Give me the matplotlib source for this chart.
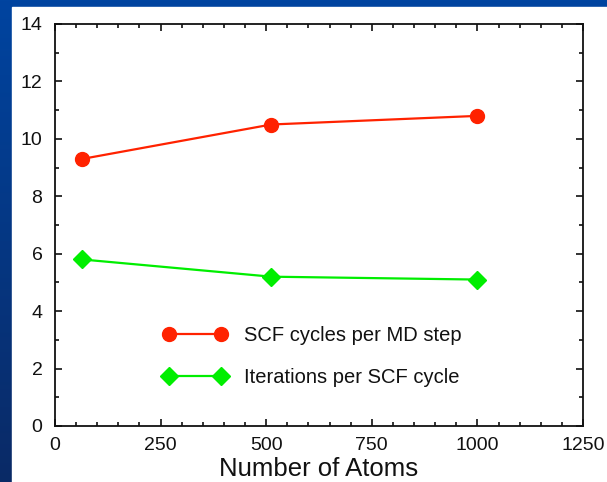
import numpy as np
import matplotlib
matplotlib.use("Agg")
import matplotlib.pyplot as plt
from matplotlib.patches import Rectangle
from matplotlib.ticker import MultipleLocator
from matplotlib.colors import LinearSegmentedColormap

atoms = [64, 512, 1000]
scf_cycles = [9.3, 10.5, 10.8]
iterations = [5.8, 5.2, 5.1]
labels = ["SCF cycles per MD step", "Iterations per SCF cycle"]
xlabel = "Number of Atoms"

plt.rcParams['font.family'] = ['Liberation Sans', 'DejaVu Sans']

W, H = 607, 482
fig = plt.figure(figsize=(W / 100, H / 100), dpi=100)

# blue gradient background
bg = fig.add_axes([0, 0, 1, 1])
bg.set_axis_off()
grad = np.linspace(0, 1, 256).reshape(-1, 1)
cmap = LinearSegmentedColormap.from_list("b", ["#0044a0", "#0a2a66"])
bg.imshow(grad, aspect='auto', cmap=cmap, extent=[0, 1, 0, 1], origin='upper')
bg.add_patch(Rectangle((12 / W, 0), 1 - 12 / W, 1 - 7 / H, color='white', transform=bg.transAxes))
bg.set_xlim(0, 1)
bg.set_ylim(0, 1)

ax = fig.add_axes([55 / W, (H - 426) / H, (583 - 55) / W, (426 - 24) / H])
ax.plot(atoms, scf_cycles, color='#ff2200', lw=1.6, marker='o', ms=10, label=labels[0])
ax.plot(atoms, iterations, color='#00ee00', lw=1.6, marker='D', ms=9.5, label=labels[1])

ax.set_xlim(0, 1250)
ax.set_ylim(0, 14)
ax.xaxis.set_major_locator(MultipleLocator(250))
ax.xaxis.set_minor_locator(MultipleLocator(50))
ax.yaxis.set_major_locator(MultipleLocator(2))
ax.yaxis.set_minor_locator(MultipleLocator(1))
ax.tick_params(which='both', direction='in', top=True, right=True, width=1.2, colors='#111111')
ax.tick_params(which='major', length=5, labelsize=14)
ax.tick_params(which='minor', length=3)
ax.tick_params(axis='y', which='major', pad=9)
ax.tick_params(axis='x', which='major', pad=8)
for s in ax.spines.values():
    s.set_linewidth(1.3)
    s.set_color('#111111')
ax.set_xlabel(xlabel, fontsize=18.5, labelpad=2, color='#111111')

leg = ax.legend(loc='upper left', bbox_to_anchor=(0.2045, 0.2485), frameon=False, fontsize=14.5,
                borderaxespad=0, borderpad=0,
                handlelength=3.2, labelspacing=1.12, handletextpad=0.8, numpoints=2)
for t in leg.get_texts():
    t.set_color('#111111')

fig.savefig("out.png", dpi=100)
